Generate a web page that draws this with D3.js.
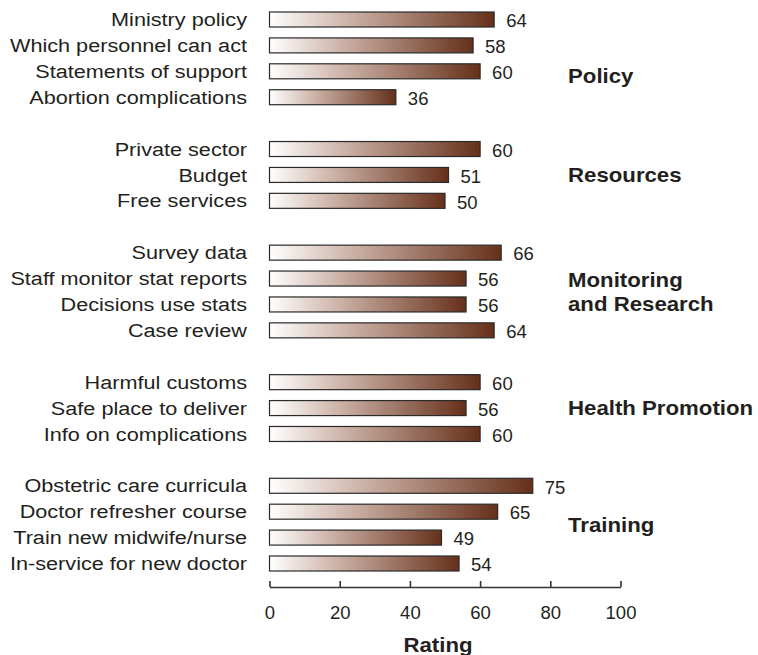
<!DOCTYPE html>
<html>
<head>
<meta charset="utf-8">
<script src="https://cdn.jsdelivr.net/npm/d3@7"></script>
<style>
  html, body { margin: 0; padding: 0; background: #fff; }
  svg { display: block; }
  text { font-family: "Liberation Sans", Arial, Helvetica, sans-serif; fill: #231f20; }
</style>
</head>
<body>
<svg id="chart" width="758" height="655"></svg>
<script>
// ---- data ----
const groups = ["Policy", "Resources", "Monitoring and Research", "Health Promotion", "Training"];
const groupItems = [
  ["Ministry policy", "Which personnel can act", "Statements of support", "Abortion complications"],
  ["Private sector", "Budget", "Free services"],
  ["Survey data", "Staff monitor stat reports", "Decisions use stats", "Case review"],
  ["Harmful customs", "Safe place to deliver", "Info on complications"],
  ["Obstetric care curricula", "Doctor refresher course", "Train new midwife/nurse", "In-service for new doctor"]
];
const groupValues = [
  [64, 58, 60, 36],
  [60, 51, 50],
  [66, 56, 56, 64],
  [60, 56, 60],
  [75, 65, 49, 54]
];
const xTicks = [0, 20, 40, 60, 80, 100];
const xTitle = "Rating";

// ---- layout ----
const svg = d3.select("#chart");
const stretchReg = 1.14;   // horizontal glyph stretch seen in the reference
const stretchBold = 1.14;

// build row keys with a blank slot between groups
const rows = [];
const slotKeys = [];
groups.forEach((g, gi) => {
  if (gi > 0) slotKeys.push("gap" + gi);
  groupItems[gi].forEach((label, i) => {
    const key = g + "|" + label;
    slotKeys.push(key);
    rows.push({ key, label, value: groupValues[gi][i], group: g, gi });
  });
});

const y = d3.scalePoint().domain(slotKeys).range([19.5, 563.5]);
const x = d3.scaleLinear().domain([0, 100]).range([269.5, 620.5]);
const barH = 15;

// gradient
const defs = svg.append("defs");
const grad = defs.append("linearGradient").attr("id", "barGrad")
  .attr("x1", "0%").attr("x2", "100%").attr("y1", "0%").attr("y2", "0%");
grad.append("stop").attr("offset", "0%").attr("stop-color", "#ffffff");
grad.append("stop").attr("offset", "35%").attr("stop-color", "#cdb3a8");
grad.append("stop").attr("offset", "100%").attr("stop-color", "#66301a");

// bars
svg.append("g").selectAll("rect").data(rows).join("rect")
  .attr("x", x(0))
  .attr("y", d => y(d.key) - barH / 2)
  .attr("width", d => x(d.value) - x(0))
  .attr("height", barH)
  .attr("fill", "url(#barGrad)")
  .attr("stroke", "#2a2a2a")
  .attr("stroke-width", 1.2);

// category labels
svg.append("g").selectAll("text").data(rows).join("text")
  .attr("transform", d => `translate(247,${y(d.key)}) scale(${stretchReg},1)`)
  .attr("text-anchor", "end")
  .attr("dy", "0.35em")
  .style("font-size", "19px")
  .text(d => d.label);

// value labels
svg.append("g").selectAll("text").data(rows).join("text")
  .attr("x", d => x(d.value) + 12)
  .attr("y", d => y(d.key))
  .attr("dy", "0.42em")
  .style("font-size", "18.5px")
  .text(d => d.value);

// group labels
const labelNudge = { "Policy": 18 };
groups.forEach((g, gi) => {
  const items = rows.filter(r => r.gi === gi);
  const cy = (y(items[0].key) + y(items[items.length - 1].key)) / 2 + (labelNudge[g] || 0);
  const words = g === "Monitoring and Research" ? ["Monitoring", "and Research"] : [g];
  const lh = 24;
  words.forEach((w, wi) => {
    svg.append("text")
      .attr("transform", `translate(568,${cy + (wi - (words.length - 1) / 2) * lh}) scale(${stretchBold},1)`)
      .attr("dy", "0.36em")
      .style("font-size", "19.5px")
      .style("font-weight", "bold")
      .text(w);
  });
});

// x axis
const axisY = 587;
const axis = d3.axisBottom(x).tickValues(xTicks).tickSize(-6).tickSizeOuter(0).tickPadding(0);
const ag = svg.append("g").attr("transform", `translate(0,${axisY})`).call(axis);
ag.select(".domain").attr("stroke", "#333").attr("stroke-width", 1.6);
ag.selectAll(".tick line").attr("stroke", "#333").attr("stroke-width", 1.6);
ag.selectAll(".tick text")
  .attr("y", 32).attr("dy", 0)
  .style("font-size", "18.5px")
  .style("font-family", '"Liberation Sans", Arial, sans-serif')
  .attr("fill", "#231f20");

// axis title
svg.append("text")
  .attr("transform", `translate(438,652) scale(${stretchBold},1)`)
  .attr("text-anchor", "middle")
  .style("font-size", "19.5px")
  .style("font-weight", "bold")
  .text(xTitle);
</script>
</body>
</html>
